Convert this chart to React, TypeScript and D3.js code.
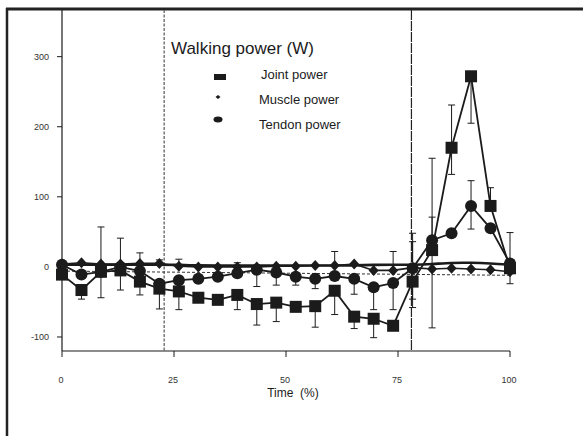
import React from "react";
import * as d3 from "d3";

const N = 24;
const timePct: number[] = Array.from({ length: N }, (_, i) => (i * 100) / (N - 1));

const jointPower = [-11, -33, -7, -5, -21, -31, -35, -44, -47, -40, -53, -51, -57, -56, -34, -71, -74, -84, -21, 24, 170, 272, 87, -2];
const jointUp =    [0, 0, 64, 46, 0, 0, 0, 0, 0, 0, 0, 0, 0, 0, 0, 0, 0, 0, 0, 131, 61, 0, 26, 0];
const jointDown =  [0, 13, 37, 28, 19, 29, 26, 0, 0, 21, 30, 27, 0, 30, 34, 17, 27, 0, 37, 111, 38, 67, 0, 22];

const musclePower = [4, 6, 4, 4, 5, 5, 1, 0, 0, 0, 0, 1, 1, 2, 2, 4, -5, -5, -1, -3, -2, -3, -4, -7];
const muscleUp =    [0, 0, 0, 0, 15, 5, 10, 0, 0, 6, 0, 0, 0, 0, 20, 0, 0, 27, 37, 0, 0, 0, 0, 0];

const tendonPower = [3, -11, -7, 0, -6, -24, -19, -17, -14, -9, -4, -8, -14, -17, -13, -17, -29, -23, -2, 38, 48, 87, 55, 5];
const tendonUp =    [0, 0, 0, 0, 0, 0, 0, 0, 0, 0, 0, 0, 0, 0, 0, 0, 0, 0, 50, 33, 0, 36, 0, 44];
const tendonDown =  [0, 0, 0, 0, 0, 0, 0, 6, 0, 0, 24, 18, 12, 14, 0, 22, 32, 38, 44, 0, 0, 33, 0, 0];

const fitLine = [3, 3, 3, 3, 3, 3, 3, 2, 2, 2, 2, 2, 2, 2, 2, 2, 3, 3, 3, 4, 6, 6, 5, 3];

const dashX = [0, 100];
const dashY = [-6, -12];

const phaseLines = [22.8, 78];

const xTicks = [0, 25, 50, 75, 100];
const yTicks = [-100, 0, 100, 200, 300];

const legendItems = ["Joint power", "Muscle power", "Tendon power"];
const titleText = "Walking power (W)";
const xLabel = "Time  (%)";

const FONT = "'Liberation Sans', Arial, sans-serif";
const INK = "#1b1b1b";

export default function App() {
  const W = 583, H = 436;
  const x = d3.scaleLinear().domain([0, 100]).range([62, 510]);
  const y = d3.scaleLinear().domain([-120, 368]).range([351, 9]);

  const line = d3.line<[number, number]>().x((d) => x(d[0])).y((d) => y(d[1]));
  const smooth = d3.line<[number, number]>().x((d) => x(d[0])).y((d) => y(d[1])).curve(d3.curveBasis);

  const pts = (vals: number[]) => vals.map((v, i) => [timePct[i], v] as [number, number]);

  const errBars = (vals: number[], up: number[] | null, down: number[] | null, key: string) => {
    const out: JSX.Element[] = [];
    vals.forEach((v, i) => {
      const cx = x(timePct[i]);
      const cw = 3.5;
      if (up && up[i]) {
        const t = y(v + up[i]);
        out.push(
          <g key={`${key}u${i}`}>
            <line x1={cx} x2={cx} y1={y(v)} y2={t} stroke={INK} strokeWidth={1} />
            <line x1={cx - cw} x2={cx + cw} y1={t} y2={t} stroke={INK} strokeWidth={1} />
          </g>
        );
      }
      if (down && down[i]) {
        const b = y(v - down[i]);
        out.push(
          <g key={`${key}d${i}`}>
            <line x1={cx} x2={cx} y1={y(v)} y2={b} stroke={INK} strokeWidth={1} />
            <line x1={cx - cw} x2={cx + cw} y1={b} y2={b} stroke={INK} strokeWidth={1} />
          </g>
        );
      }
    });
    return out;
  };

  const diamond = (cx: number, cy: number, w: number, h: number) =>
    `M${cx},${cy - h / 2}L${cx + w / 2},${cy}L${cx},${cy + h / 2}L${cx - w / 2},${cy}Z`;

  return (
    <svg width={W} height={H} style={{ position: "absolute", left: 0, top: 0, background: "#fff" }} fontFamily={FONT}>
      <rect x={0} y={0} width={W} height={H} fill="#fff" />
      {/* outer frame */}
      <line x1={7} x2={7} y1={8} y2={H} stroke="#222" strokeWidth={2.5} />
      <line x1={6} x2={W} y1={9} y2={9} stroke="#222" strokeWidth={3} />

      {/* axes */}
      <line x1={x(0)} x2={x(0)} y1={10} y2={y(-120)} stroke={INK} strokeWidth={1.2} />
      <line x1={x(0)} x2={x(100)} y1={y(-120)} y2={y(-120)} stroke={INK} strokeWidth={1.2} />
      {yTicks.map((t) => (
        <g key={`yt${t}`}>
          <line x1={x(0) - 5} x2={x(0)} y1={y(t)} y2={y(t)} stroke={INK} strokeWidth={1} />
          <text x={49} y={y(t) + 3} fontSize={9} fill="#333" textAnchor="end">{t}</text>
        </g>
      ))}
      {xTicks.map((t) => (
        <g key={`xt${t}`}>
          <line x1={x(t)} x2={x(t)} y1={y(-120)} y2={y(-120) + 6} stroke={INK} strokeWidth={1} />
          <text x={x(t) - 1} y={383} fontSize={9} fill="#333" textAnchor="middle">{t}</text>
        </g>
      ))}
      <text x={293} y={397} fontSize={12} fill={INK} textAnchor="middle" style={{ whiteSpace: "pre" }}>{xLabel}</text>

      {/* phase lines */}
      {phaseLines.map((p, i) => (
        <line key={`pl${i}`} x1={x(p)} x2={x(p)} y1={10} y2={y(-120)} stroke={i === 0 ? "#555" : "#222"} strokeWidth={1.2} strokeDasharray={i === 0 ? "3,1.5" : "10,1"} />
      ))}

      {/* dashed reference */}
      <path d={line(dashX.map((v, i) => [v, dashY[i]] as [number, number])) || ""} fill="none" stroke="#333" strokeWidth={1} strokeDasharray="3,2" />

      {/* error bars */}
      {errBars(jointPower, jointUp, jointDown, "j")}
      {errBars(musclePower, muscleUp, null, "m")}
      {errBars(tendonPower, tendonUp, tendonDown, "t")}

      {/* lines */}
      <path d={smooth(pts(fitLine)) || ""} fill="none" stroke={INK} strokeWidth={2.6} />
      <path d={line(pts(musclePower)) || ""} fill="none" stroke={INK} strokeWidth={1.6} />
      <path d={line(pts(tendonPower)) || ""} fill="none" stroke={INK} strokeWidth={1.8} />
      <path d={line(pts(jointPower)) || ""} fill="none" stroke={INK} strokeWidth={1.8} />

      {/* markers */}
      {musclePower.map((v, i) => (
        <path key={`md${i}`} d={diamond(x(timePct[i]), y(v), 10, 11)} fill={INK} />
      ))}
      {tendonPower.map((v, i) => (
        <circle key={`tc${i}`} cx={x(timePct[i])} cy={y(v)} r={6} fill={INK} />
      ))}
      {jointPower.map((v, i) => (
        <rect key={`js${i}`} x={x(timePct[i]) - 6} y={y(v) - 6} width={12} height={12} fill={INK} />
      ))}

      {/* legend */}
      <text x={171} y={54} fontSize={17} fill={INK}>{titleText}</text>
      <rect x={214} y={74} width={12} height={6} fill={INK} />
      <path d={diamond(218, 97, 5, 4)} fill={INK} />
      <ellipse cx={218} cy={119.5} rx={4.5} ry={3} fill={INK} />
      {legendItems.map((t, i) => (
        <text key={`lg${i}`} x={i === 0 ? 261 : 259} y={79 + i * 25} fontSize={13} fill={INK}>{t}</text>
      ))}
    </svg>
  );
}
